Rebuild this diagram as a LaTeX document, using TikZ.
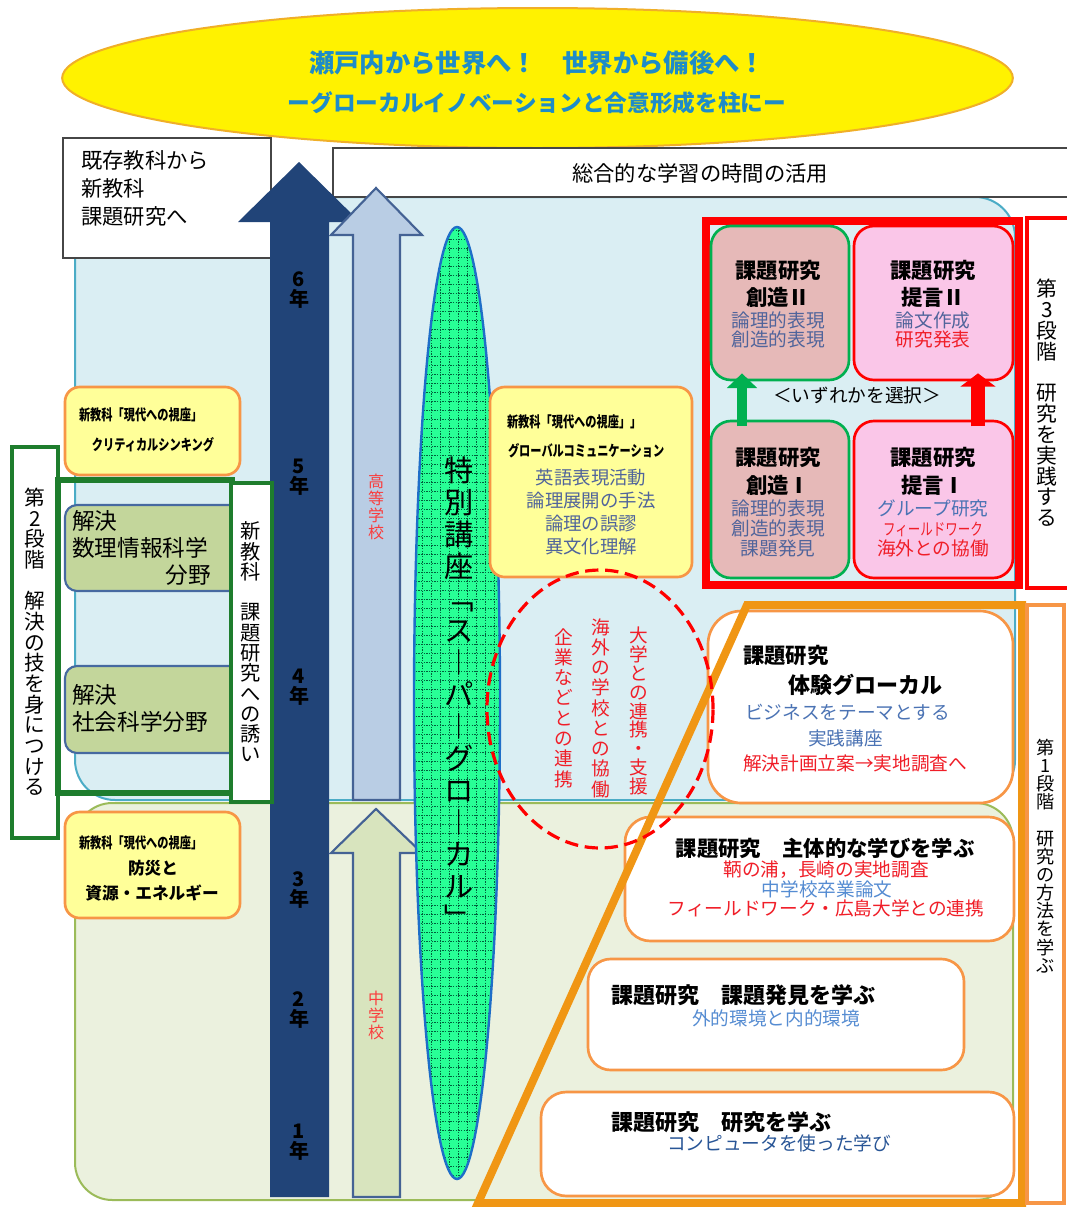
\documentclass[tikz,border=0pt]{standalone}
\usepackage{fontspec}
\setmainfont{Noto Sans CJK JP}
\newfontfamily\condfont{Noto Sans CJK JP}[FakeStretch=0.75]
\usepackage{graphicx}
\usetikzlibrary{shapes.geometric,arrows.meta,fit}
\makeatletter
\newcommand\vstack[1]{\vbox{\lineskiplimit=-100pt\relax\@tfor\vch:=#1\do{\hbox to 1.05em{\hss\vch\hss}}}}
\makeatother
\newcommand\setfs[2]{\fontsize{#1}{#2}\selectfont}
\definecolor{cNavy}{RGB}{33,68,120}
\definecolor{cArrBorder}{RGB}{68,98,148}
\definecolor{cHsFill}{RGB}{185,205,228}
\definecolor{cJhFill}{RGB}{216,228,190}
\definecolor{cLbFill}{RGB}{218,238,243}
\definecolor{cLbLine}{RGB}{75,172,198}
\definecolor{cLgFill}{RGB}{235,241,222}
\definecolor{cLgLine}{RGB}{155,187,89}
\definecolor{cYFill}{RGB}{255,255,153}
\definecolor{cOrange}{RGB}{247,150,70}
\definecolor{cTrap}{RGB}{240,150,20}
\definecolor{cOlive}{RGB}{195,214,155}
\definecolor{cOlBorder}{RGB}{70,105,160}
\definecolor{cDkGreen}{RGB}{30,125,45}
\definecolor{cCGreen}{RGB}{0,176,80}
\definecolor{cCFill}{RGB}{230,185,184}
\definecolor{cTFill}{RGB}{250,198,232}
\definecolor{cRed}{RGB}{255,0,0}
\definecolor{cSpFill}{RGB}{40,255,150}
\definecolor{cSpGrid}{RGB}{0,95,60}
\definecolor{cSpLine}{RGB}{30,110,200}
\definecolor{cGoalLine}{RGB}{240,175,40}
\definecolor{cGoalText}{RGB}{30,140,200}
\definecolor{cBoxGray}{RGB}{70,70,70}
\definecolor{tGray}{RGB}{80,100,155}
\definecolor{tRed}{RGB}{240,30,40}
\definecolor{tMid}{RGB}{75,115,180}
\definecolor{tLight}{RGB}{85,140,210}
\definecolor{tDark}{RGB}{40,85,150}
\definecolor{tSchool}{RGB}{250,60,60}
\tikzset{
  every node/.style={inner sep=0pt,outer sep=0pt},
  wbox/.style={draw=cBoxGray,fill=white,line width=1.2pt},
  ybox/.style={draw=cOrange,fill=cYFill,line width=2pt,rounded corners=11pt},
  obox/.style={draw=cOrange,fill=white,line width=2pt,rounded corners=#1},
  obox/.default=20pt,
  olbox/.style={draw=cOlBorder,fill=cOlive,line width=1.6pt,rounded corners=9pt},
  gbox/.style={draw=cDkGreen,fill=white,line width=3pt},
  cbox/.style={draw=cCGreen,fill=cCFill,line width=2pt,rounded corners=15pt},
  tbox/.style={draw=cRed,fill=cTFill,line width=2pt,rounded corners=15pt},
  cond/.style={font=\condfont\bfseries\setfs{11.2}{11.2}},
  hdr/.style={font=\bfseries\setfs{16}{16}},
  subtx/.style={font=\setfs{14}{14}},
  midtx/.style={font=\setfs{17}{17}},
  lbltx/.style={font=\setfs{16}{16}},
  yeartx/.style={font=\bfseries\setfs{15}{15}},
  schooltx/.style={text=tSchool,font=\setfs{12}{12.8}},
  schoolarrow/.style={draw=cArrBorder,line width=1.6pt,line join=miter},
  gridln/.style={cSpGrid,line width=0.6pt,dash pattern=on 1.1pt off 0.9pt},
}
\begin{document}
\begin{tikzpicture}[x=0.75pt,y=-0.75pt]
\useasboundingbox (0,0) rectangle (1067,1207);
\fill[white] (0,0) rectangle (1067,1207);

% goal ellipse
\node[ellipse,draw=cGoalLine,fill=yellow,line width=1.5pt,minimum width=713pt,minimum height=105pt] (goal) at (537.5,78) {};
\node[text=cGoalText,font=\bfseries\setfs{19}{19}] (goal1) at (537,63) {瀬戸内から世界へ！　世界から備後へ！};
\node[text=cGoalText,font=\bfseries\setfs{17}{17}] (goal2) at (537,103) {ーグローカルイノベーションと合意形成を柱にー};

% background regions
\draw[fill=cLbFill,draw=cLbLine,line width=1.5pt,rounded corners=30pt] (75,197) rectangle (1015,800);
\draw[fill=cLgFill,draw=cLgLine,line width=1.5pt,rounded corners=28pt] (75,803) rectangle (1013,1200);

% top boxes
\node[wbox,fit={(63,138)(271,258)}] (kizon) {};
\node[lbltx,anchor=west] (kizon1) at (81,160) {既存教科から};
\node[lbltx,anchor=west] (kizon2) at (81,188) {新教科};
\node[lbltx,anchor=west] (kizon3) at (81,216) {課題研究へ};
\node[wbox,fit={(333,148)(1080,197)}] (sogo) {};
\node[lbltx] (sogot) at (700,173) {総合的な学習の時間の活用};

% big arrows
\fill[cNavy] (270,1197) -- (270,222) -- (238,222) -- (299,162) -- (360,222) -- (329,222) -- (329,1197) -- cycle;
\draw[schoolarrow,fill=cHsFill] (353,800) -- (353,235) -- (331,235) -- (376,188) -- (422,235) -- (400,235) -- (400,800) -- cycle;
\draw[schoolarrow,fill=cJhFill] (353,1197) -- (353,853) -- (331,853) -- (376,809) -- (422,853) -- (400,853) -- (400,1197) -- cycle;
\node[yeartx] (y6) at (299,290) {\vstack{6年}};
\node[yeartx] (y5) at (299,477) {\vstack{5年}};
\node[yeartx] (y4) at (299,687) {\vstack{4年}};
\node[yeartx] (y3) at (299,890) {\vstack{3年}};
\node[yeartx] (y2) at (299,1010) {\vstack{2年}};
\node[yeartx] (y1) at (299,1142) {\vstack{1年}};
\node[schooltx] (hs) at (376,507) {\vstack{高等学校}};
\node[schooltx] (jh) at (376,1015) {\vstack{中学校}};

% spindle
\node[ellipse,fill=cSpFill,minimum width=64.5pt,minimum height=714pt] (sg) at (457,703) {};
\begin{scope}
  \clip (sg.center) ellipse [x radius=32.25pt,y radius=357pt];
  \foreach \gx in {413,422,...,503} \draw[gridln] (\gx,220) -- (\gx,1190);
  \foreach \gy in {230,239,...,1185} \draw[gridln] (405,\gy) -- (510,\gy);
\end{scope}
\draw[cSpLine,line width=1.8pt] (sg.center) ellipse [x radius=32.25pt,y radius=357pt];
\node[font=\setfs{22}{24}] (sgt) at (459,693) {\vstack{特別講座﹁ス︱パ︱グロ︱カル﹂}};

% left side
\node[ybox,fit={(65,387)(240,475)}] (ya) {};
\node[cond,anchor=west] (ya1) at (79,415) {新教科「現代への視座」};
\node[cond] (ya2) at (153,445) {クリティカルシンキング};

\node[gbox,fit={(12,447)(58,838)}] (st2) {};
\node[font=\setfs{15.5}{15.5}] (st2t) at (35,642) {\vstack{第2段階　解決の技を身につける}};

\node[olbox,fit={(65,505)(250,591)}] (ol1) {};
\node[midtx,anchor=west] (ol1a) at (72,521) {解決};
\node[midtx,anchor=west] (ol1b) at (72,548) {数理情報科学};
\node[midtx,anchor=east] (ol1c) at (211,575) {分野};
\node[olbox,fit={(65,666)(250,753)}] (ol2) {};
\node[midtx,anchor=west] (ol2a) at (72,695) {解決};
\node[midtx,anchor=west] (ol2b) at (72,722) {社会科学分野};

\node[draw=cDkGreen,line width=4pt,fit={(58,480)(232,793)}] (frame2) {};
\node[gbox,fit={(231,483)(272,802)}] (sasoi) {};
\node[font=\setfs{15.2}{15.2}] (sasoit) at (251,642) {\vstack{新教科　課題研究への誘い}};

\node[ybox,fit={(65,812)(240,918)}] (yb) {};
\node[cond,anchor=west] (yb1) at (79,843) {新教科「現代への視座」};
\node[font=\bfseries\setfs{12.5}{12.5}] (yb2) at (153,868) {防災と};
\node[font=\bfseries\setfs{12.5}{12.5}] (yb3) at (152,893) {資源・エネルギー};

% middle yellow box
\node[ybox,fit={(490,387)(692,577)}] (yc) {};
\node[cond,anchor=west] (yc1) at (507,422) {新教科「現代への視座」」};
\node[cond,anchor=west] (yc2) at (508,451) {グローバルコミュニケーション};
\node[text=tGray,font=\setfs{13.8}{13.8}] (yc3) at (591,478) {英語表現活動};
\node[text=tGray,font=\setfs{13.8}{13.8}] (yc4) at (591,501) {論理展開の手法};
\node[text=tGray,font=\setfs{13.8}{13.8}] (yc5) at (591,524) {論理の誤謬};
\node[text=tGray,font=\setfs{13.8}{13.8}] (yc6) at (591,547) {異文化理解};

% third stage (red)
\node[draw=cRed,line width=6pt,fit={(706,221)(1019,585)}] (rframe) {};
\node[draw=cRed,fill=white,line width=3.5pt,fit={(1027,218)(1080,588)}] (st3) {};
\node[font=\setfs{15.6}{15.6}] (st3t) at (1047,403) {\vstack{第3段階　研究を実践する}};

\node[cbox,fit={(711,226)(849,380)}] (c2) {};
\node[tbox,fit={(854,226)(1013,380)}] (t2) {};
\node[cbox,fit={(711,421)(849,578)}] (c1) {};
\node[tbox,fit={(854,421)(1013,578)}] (t1) {};

\node[hdr] (c2a) at (778,270) {課題研究};
\node[hdr] (c2b) at (778,297) {創造Ⅱ};
\node[subtx,text=tGray] (c2c) at (778,320) {論理的表現};
\node[subtx,text=tGray] (c2d) at (778,339) {創造的表現};

\node[hdr] (t2a) at (933,270) {課題研究};
\node[hdr] (t2b) at (933,297) {提言Ⅱ};
\node[subtx,text=tGray] (t2c) at (933,320) {論文作成};
\node[subtx,text=tRed] (t2d) at (933,339) {研究発表};

\node[hdr] (c1a) at (778,457) {課題研究};
\node[hdr] (c1b) at (778,485) {創造Ⅰ};
\node[subtx,text=tGray] (c1c) at (778,508) {論理的表現};
\node[subtx,text=tGray] (c1d) at (778,528) {創造的表現};
\node[subtx,text=tGray] (c1e) at (778,548) {課題発見};

\node[hdr] (t1a) at (933,457) {課題研究};
\node[hdr] (t1b) at (933,485) {提言Ⅰ};
\node[subtx,text=tMid] (t1c) at (933,508) {グループ研究};
\node[text=tRed,font=\condfont\setfs{12.5}{12.5}] (t1d) at (933,529) {フィールドワーク};
\node[subtx,text=tRed] (t1e) at (933,548) {海外との協働};

\node[subtx] (choose) at (857,395) {＜いずれかを選択＞};
\coordinate (ga) at (742,400);
\coordinate (ra) at (978,400);
\draw[cCGreen,line width=7.5pt,-{Triangle[width=22pt,length=11pt]}] ([yshift=-4pt]c1.north -| ga) -- ([yshift=5pt]c2.south -| ga);
\draw[cRed,line width=11pt,-{Triangle[width=26pt,length=10pt]}] ([yshift=-4pt]t1.north -| ra) -- ([yshift=5pt]t2.south -| ra);

% first stage (orange)
\node[obox=25pt,fit={(708,611)(1013,803)}] (ob1) {};
\node[obox=19pt,fit={(625,817)(1014,941)}] (ob2) {};
\node[obox=17pt,fit={(588,959)(964,1070)}] (ob3) {};
\node[obox=19pt,fit={(541,1092)(1014,1196)}] (ob4) {};
\draw[cTrap,line width=6pt,line join=miter] (747,605) -- (1022,605) -- (1022,1203) -- (478,1203) -- cycle;
\node[draw=cOrange,fill=white,line width=2.4pt,fit={(1027,605)(1064,1203)}] (st1) {};
\node[font=\setfs{13.6}{13.6}] (st1t) at (1046,856) {\vstack{第1段階　研究の方法を学ぶ}};

\node[hdr,anchor=west] (ob1a) at (743,655) {課題研究};
\node[hdr,anchor=west,font=\bfseries\setfs{16.5}{16.5}] (ob1b) at (788,685) {体験グローカル};
\node[subtx,text=tMid,anchor=west] (ob1c) at (745,712) {ビジネスをテーマとする};
\node[subtx,text=tMid,anchor=west] (ob1d) at (808,738) {実践講座};
\node[subtx,text=tRed,anchor=west] (ob1e) at (743,763) {解決計画立案→実地調査へ};

\node[hdr] (ob2a) at (825,848) {課題研究　主体的な学びを学ぶ};
\node[subtx,text=tRed] (ob2b) at (826,870) {鞆の浦，長崎の実地調査};
\node[subtx,text=tLight] (ob2c) at (827,889) {中学校卒業論文};
\node[subtx,text=tRed] (ob2d) at (826,908) {フィールドワーク・広島大学との連携};

\node[hdr,anchor=west,font=\bfseries\setfs{16.5}{16.5}] (ob3a) at (611,995) {課題研究　課題発見を学ぶ};
\node[subtx,text=tLight] (ob3b) at (776,1018) {外的環境と内的環境};

\node[hdr,anchor=west,font=\bfseries\setfs{16.5}{16.5}] (ob4a) at (611,1122) {課題研究　研究を学ぶ};
\node[subtx,text=tDark] (ob4b) at (779,1143) {コンピュータを使った学び};

% cooperation ellipse
\node[ellipse,draw=cRed,line width=2.4pt,dash pattern=on 10pt off 5pt,minimum width=169.5pt,minimum height=208.5pt] (coop) at (600,709) {};
\node[text=tRed,font=\setfs{14}{14.2}] (coop1) at (639,711) {\vstack{大学との連携・支援}};
\node[text=tRed,font=\setfs{14}{15.2}] (coop2) at (601,708) {\vstack{海外の学校との協働}};
\node[text=tRed,font=\setfs{14}{15.2}] (coop3) at (564,708) {\vstack{企業などとの連携}};
\end{tikzpicture}
\end{document}
